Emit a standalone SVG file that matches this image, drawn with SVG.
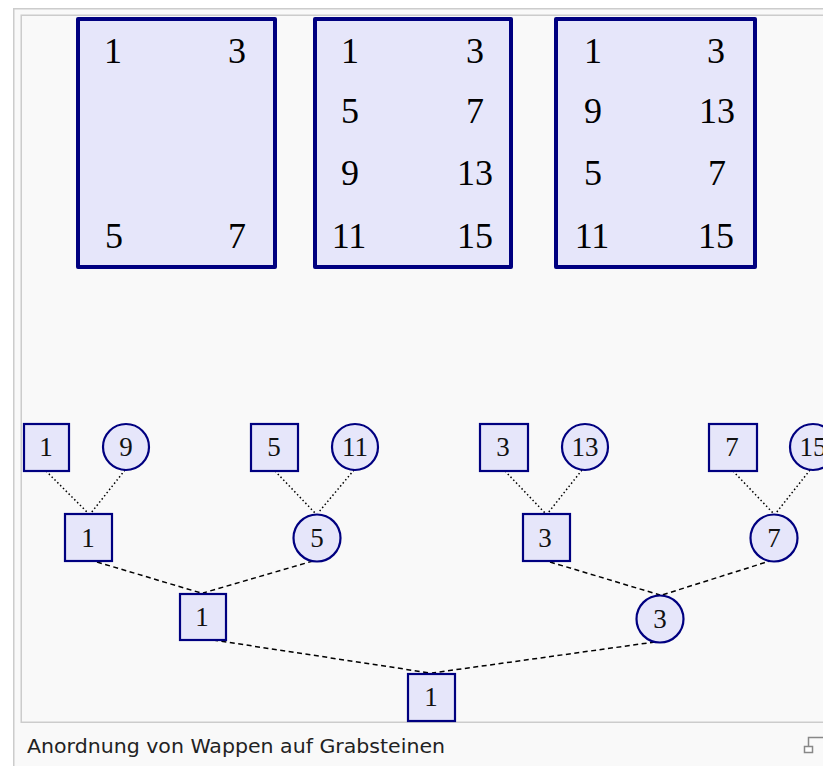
<svg xmlns="http://www.w3.org/2000/svg" width="823" height="766" viewBox="0 0 823 766">
<style>
.frame{fill:#f9f9f9;stroke:#cccccc;stroke-width:1.5}
.shield{fill:#e6e6fa;stroke:#000080;stroke-width:4;stroke-linejoin:round}
.big{font-family:"Liberation Serif",serif;font-size:36px;fill:#000;text-anchor:middle}
.sq{fill:#e6e6fa;stroke:#000080;stroke-width:2.2}
.ci{fill:#e6e6fa;stroke:#000080;stroke-width:2.2}
.lbl{font-family:"Liberation Serif",serif;font-size:27px;fill:#111;text-anchor:middle}
.dot{stroke:#000;stroke-width:1.5;stroke-dasharray:1.5 2.5;fill:none}
.dash{stroke:#000;stroke-width:1.5;stroke-dasharray:5 3.5;fill:none}
.cap{font-family:"DejaVu Sans",Verdana,sans-serif;font-size:19.5px;fill:#222}
</style>
<rect x="0" y="0" width="823" height="766" fill="#ffffff"/>
<rect class="frame" x="13.75" y="8.75" width="830" height="780"/>
<rect class="frame" x="21.25" y="15.25" width="830" height="707"/>

<g id="shield1">
<rect class="shield" x="78" y="19" width="197" height="248"/>
<text class="big" x="113" y="63">1</text><text class="big" x="237" y="63">3</text>
<text class="big" x="114" y="248">5</text><text class="big" x="237" y="248">7</text>
</g>
<g id="shield2">
<rect class="shield" x="315" y="19" width="196" height="248"/>
<text class="big" x="350" y="63">1</text><text class="big" x="475" y="63">3</text>
<text class="big" x="350" y="123">5</text><text class="big" x="475" y="123">7</text>
<text class="big" x="350" y="185">9</text><text class="big" x="475" y="185">13</text>
<text class="big" x="349" y="248">11</text><text class="big" x="475" y="248">15</text>
</g>
<g id="shield3">
<rect class="shield" x="556" y="19" width="199" height="248"/>
<text class="big" x="593" y="63">1</text><text class="big" x="716" y="63">3</text>
<text class="big" x="593" y="123">9</text><text class="big" x="717" y="123">13</text>
<text class="big" x="593" y="185">5</text><text class="big" x="717" y="185">7</text>
<text class="big" x="592" y="248">11</text><text class="big" x="716" y="248">15</text>
</g>

<g id="connectors">
<line class="dot" x1="46" y1="471" x2="88" y2="513"/>
<line class="dot" x1="125" y1="470" x2="91" y2="513"/>
<line class="dot" x1="275" y1="471" x2="315" y2="513"/>
<line class="dot" x1="354" y1="470" x2="318" y2="513"/>
<line class="dot" x1="505" y1="471" x2="545" y2="513"/>
<line class="dot" x1="582" y1="470" x2="548" y2="513"/>
<line class="dot" x1="733" y1="471" x2="773" y2="513"/>
<line class="dot" x1="810" y1="470" x2="776" y2="513"/>
<line class="dash" x1="97" y1="562" x2="201" y2="593"/>
<line class="dash" x1="313" y1="561" x2="203" y2="593"/>
<line class="dash" x1="550" y1="562" x2="660" y2="595"/>
<line class="dash" x1="773" y1="560" x2="662" y2="595"/>
<line class="dash" x1="213" y1="640" x2="430" y2="673"/>
<line class="dash" x1="655" y1="642" x2="432" y2="673"/>
</g>

<g id="n1a"><rect class="sq" x="24" y="424" width="45" height="47"/><text class="lbl" x="46" y="456">1</text></g>
<g id="n9a"><circle class="ci" cx="126" cy="447" r="23"/><text class="lbl" x="126" y="456">9</text></g>
<g id="n5a"><rect class="sq" x="251" y="424" width="47" height="47"/><text class="lbl" x="274" y="456">5</text></g>
<g id="n11a"><circle class="ci" cx="355" cy="447" r="23"/><text class="lbl" x="355" y="456">11</text></g>
<g id="n3a"><rect class="sq" x="480" y="424" width="48" height="47"/><text class="lbl" x="503" y="456">3</text></g>
<g id="n13a"><circle class="ci" cx="585" cy="447" r="23"/><text class="lbl" x="585" y="456">13</text></g>
<g id="n7a"><rect class="sq" x="709" y="424" width="48" height="47"/><text class="lbl" x="732" y="456">7</text></g>
<g id="n15a"><circle class="ci" cx="813" cy="447" r="23"/><text class="lbl" x="813" y="456">15</text></g>

<g id="n1b"><rect class="sq" x="65" y="514" width="47" height="47"/><text class="lbl" x="88" y="547">1</text></g>
<g id="n5b"><circle class="ci" cx="317" cy="538" r="23.5"/><text class="lbl" x="317" y="547">5</text></g>
<g id="n3b"><rect class="sq" x="523" y="514" width="47" height="47"/><text class="lbl" x="545" y="547">3</text></g>
<g id="n7b"><circle class="ci" cx="774" cy="538" r="23.5"/><text class="lbl" x="774" y="547">7</text></g>

<g id="n1c"><rect class="sq" x="180" y="594" width="46" height="46"/><text class="lbl" x="202" y="626">1</text></g>
<g id="n3c"><circle class="ci" cx="660" cy="619" r="23.5"/><text class="lbl" x="660" y="628">3</text></g>

<g id="n1d"><rect class="sq" x="408" y="674" width="47" height="47"/><text class="lbl" x="431" y="706">1</text></g>

<text class="cap" x="27" y="753" textLength="418" lengthAdjust="spacingAndGlyphs">Anordnung von Wappen auf Grabsteinen</text>
<g id="magnify" fill="none" stroke="#888" stroke-width="1.5">
<rect x="804.5" y="746.5" width="8" height="6" fill="#fff"/>
<path d="M808.5 746.5 V737.5 H823"/>
</g>
</svg>
